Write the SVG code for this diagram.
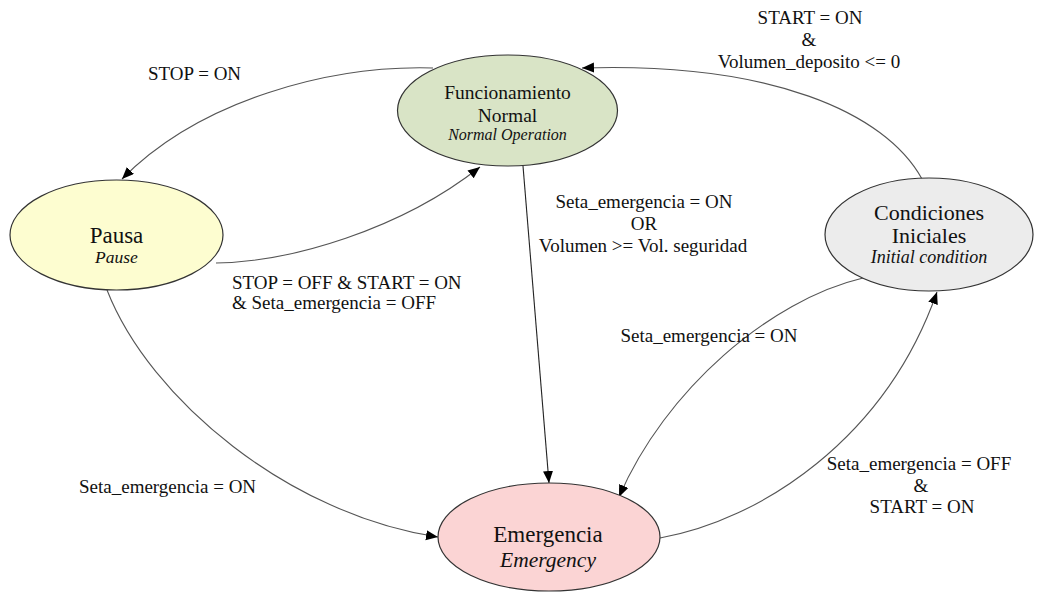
<svg xmlns="http://www.w3.org/2000/svg" width="1037" height="592" viewBox="0 0 1037 592">
<defs>
<marker id="arr" markerUnits="userSpaceOnUse" markerWidth="13" markerHeight="11" refX="12" refY="5" orient="auto">
<path d="M0,0 L12,5 L0,10 z" fill="#000"/>
</marker>
<style>
.node{stroke:#333;stroke-width:1.2}
.t{font-family:"Liberation Serif","Times New Roman",serif;fill:#111;text-anchor:middle}
.i{font-style:italic}
.lbl{font-family:"Liberation Serif","Times New Roman",serif;fill:#111;font-size:19px}
.e{fill:none;stroke:#555;stroke-width:1.1;marker-end:url(#arr)}
</style>
</defs>
<rect width="1037" height="592" fill="#fff"/>
<g id="connectors">
<path class="e" d="M433,68 C330,65 200,100 122,179"/>
<path class="e" d="M216,263 C290,262 400,230 480,167"/>
<path class="e" d="M523,166 L549,483" style="stroke:#222"/>
<path class="e" d="M922,179 C885,112 770,62 582,68"/>
<path class="e" d="M863,278 C770,300 665,390 619,497"/>
<path class="e" d="M660,538 C760,520 885,440 937,292"/>
<path class="e" d="M107,290 C150,400 290,515 438,537"/>
<text class="lbl" x="148" y="80">STOP = ON</text>
<text class="lbl" x="232" y="289">STOP = OFF &amp; START = ON</text>
<text class="lbl" x="232" y="309">&amp; Seta_emergencia = OFF</text>
<text class="lbl" x="644" y="208" text-anchor="middle">Seta_emergencia = ON</text>
<text class="lbl" x="644" y="230" text-anchor="middle">OR</text>
<text class="lbl" x="643" y="252" text-anchor="middle">Volumen &gt;= Vol. seguridad</text>
<text class="lbl" x="810" y="24" text-anchor="middle">START = ON</text>
<text class="lbl" x="809" y="46" text-anchor="middle">&amp;</text>
<text class="lbl" x="809" y="68" text-anchor="middle">Volumen_deposito &lt;= 0</text>
<text class="lbl" x="709" y="342" text-anchor="middle">Seta_emergencia = ON</text>
<text class="lbl" x="919" y="470" text-anchor="middle">Seta_emergencia = OFF</text>
<text class="lbl" x="921" y="492" text-anchor="middle">&amp;</text>
<text class="lbl" x="922" y="513" text-anchor="middle">START = ON</text>
<text class="lbl" x="79" y="493">Seta_emergencia = ON</text>
</g>
<g id="normal">
<ellipse class="node" cx="507.5" cy="110.5" rx="110" ry="55.5" fill="#d9e4c6"/>
<text class="t" x="507.5" y="99" font-size="19.5">Funcionamiento</text>
<text class="t" x="507.5" y="122" font-size="19.5">Normal</text>
<text class="t i" x="507.5" y="140" font-size="16">Normal Operation</text>
</g>
<g id="pausa">
<ellipse class="node" cx="116.5" cy="235" rx="106.5" ry="55" fill="#fdfdd0"/>
<text class="t" x="116.5" y="243" font-size="23">Pausa</text>
<text class="t i" x="116.5" y="263" font-size="17.5">Pause</text>
</g>
<g id="condiciones">
<ellipse class="node" cx="929" cy="234.5" rx="104" ry="56.5" fill="#ececec"/>
<text class="t" x="929" y="220" font-size="22">Condiciones</text>
<text class="t" x="929" y="243" font-size="22">Iniciales</text>
<text class="t i" x="929" y="263" font-size="18">Initial condition</text>
</g>
<g id="emergencia">
<ellipse class="node" cx="549" cy="537" rx="111" ry="54" fill="#fbd4d4"/>
<text class="t" x="548" y="542" font-size="23">Emergencia</text>
<text class="t i" x="548" y="567" font-size="21.5">Emergency</text>
</g>
</svg>
